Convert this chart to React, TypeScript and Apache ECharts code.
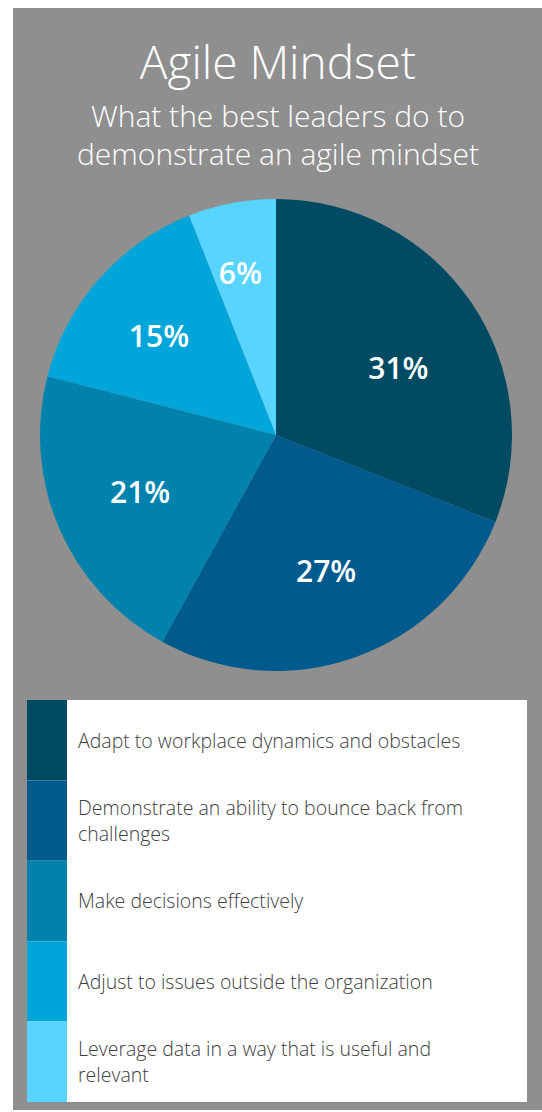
import React, { useEffect, useRef } from "react";
import * as echarts from "echarts";

const categories = [
  "Adapt to workplace dynamics and obstacles",
  "Demonstrate an ability to bounce back from challenges",
  "Make decisions effectively",
  "Adjust to issues outside the organization",
  "Leverage data in a way that is useful and relevant",
];
const legendLines = [
  "Adapt to workplace dynamics and obstacles",
  "Demonstrate an ability to bounce back from\nchallenges",
  "Make decisions effectively",
  "Adjust to issues outside the organization",
  "Leverage data in a way that is useful and\nrelevant",
];
const values = [31, 27, 21, 15, 6];
const colors = ["#004A63", "#005A8D", "#0082AC", "#00A6DA", "#57D4FF"];
// label nudges [dx, dy] in px
const labelNudge = [
  [0, 16],
  [0, -4],
  [0, -2],
  [-6, -2],
  [-8, -17],
];

const FONT = "'Open Sans', 'Noto Sans', 'DejaVu Sans', sans-serif";

export default function App() {
  const ref = useRef<HTMLDivElement>(null);
  useEffect(() => {
    document.body.style.margin = "0";
    const chart = echarts.init(ref.current!, null, { renderer: "svg" });
    const cx = 276;
    const cy = 435;
    const textStyle = (size: number) => ({
      fill: "#ffffff",
      fontSize: size,
      fontWeight: 300,
      fontFamily: FONT,
      align: "center",
      verticalAlign: "middle",
      textAlign: "center",
      textVerticalAlign: "middle",
    });
    chart.setOption({
      animation: false,
      backgroundColor: "#ffffff",
      graphic: [
        {
          type: "rect",
          z: -10,
          shape: { x: 13, y: 8, width: 529, height: 1102 },
          style: { fill: "#8F8F8F" },
          silent: true,
        },
        {
          type: "rect",
          z: -5,
          shape: { x: 27, y: 700, width: 500, height: 402 },
          style: { fill: "#ffffff" },
          silent: true,
        },
        { type: "text", x: 278, y: 61, style: { text: "Agile Mindset", ...textStyle(46) } },
        { type: "text", x: 278, y: 115, style: { text: "What the best leaders do to", ...textStyle(30) } },
        { type: "text", x: 278, y: 153, style: { text: "demonstrate an agile mindset", ...textStyle(30) } },
      ],
      legend: {
        orient: "vertical",
        left: 27,
        top: 700,
        padding: 0,
        itemGap: 0,
        itemWidth: 40,
        itemHeight: 80.4,
        icon: "rect",
        selectedMode: false,
        data: categories.map((n, i) => ({ name: n, itemStyle: { color: colors[i] } })),
        formatter: (name: string) => legendLines[categories.indexOf(name)],
        textStyle: {
          fontFamily: FONT,
          fontSize: 19.5,
          fontWeight: 300,
          color: "#404040",
          lineHeight: 26,
          padding: [0, 0, 0, 6],
        },
      },
      series: [
        {
          type: "pie",
          center: [cx, cy],
          radius: [0, 236],
          startAngle: 90,
          clockwise: true,
          silent: true,
          label: { show: false },
          labelLine: { show: false },
          data: categories.map((n, i) => ({
            name: n,
            value: values[i],
            itemStyle: { color: colors[i] },
          })),
        },
        {
          type: "pie",
          center: [cx, cy],
          radius: [0, 290],
          startAngle: 90,
          clockwise: true,
          silent: true,
          itemStyle: { color: "rgba(0,0,0,0)" },
          label: {
            show: true,
            position: "inside",
            formatter: "{c}%",
            color: "#ffffff",
            fontFamily: FONT,
            fontSize: 30,
            fontWeight: 600,
          },
          labelLine: { show: false },
          labelLayout: (p: any) => ({
            dx: labelNudge[p.dataIndex][0],
            dy: labelNudge[p.dataIndex][1],
          }),
          data: categories.map((n, i) => ({ name: n, value: values[i] })),
        },
      ],
    });
    return () => chart.dispose();
  }, []);
  return <div ref={ref} style={{ width: 542, height: 1112 }} />;
}
